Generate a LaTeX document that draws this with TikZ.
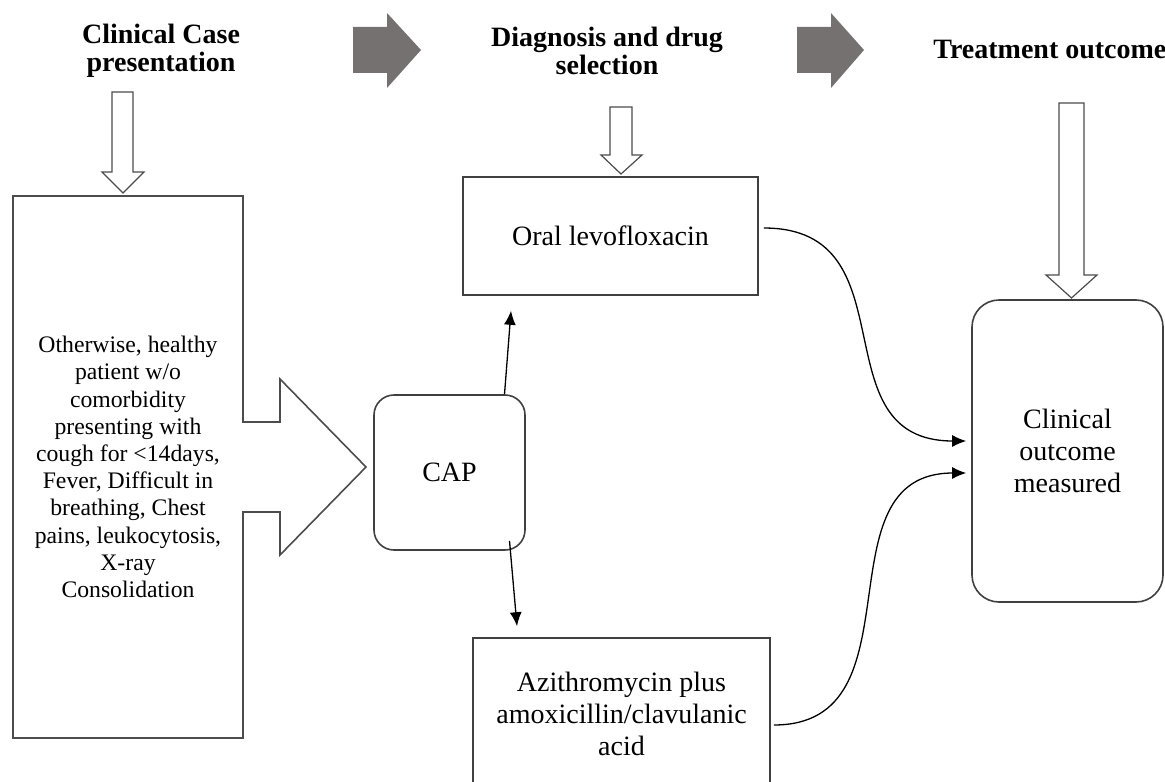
\documentclass[tikz,border=0pt]{standalone}
\usepackage{fontspec}
\setmainfont{Liberation Serif}
\usetikzlibrary{arrows.meta}
\usetikzlibrary{calc}
\definecolor{blockgray}{HTML}{767171}

\begin{document}
\begin{tikzpicture}[x=0.5pt,y=-0.5pt,
  head/.style={font=\bfseries\fontsize{14}{14}\selectfont,align=center,inner sep=0pt},
  box/.style={draw=black!75,line width=0.8pt,align=center,font=\fontsize{14}{16}\selectfont},
  hollow/.style={draw=black!70,fill=white,line width=0.6pt},
  flow/.style={->,>={Latex[length=7pt,width=6pt]},line width=0.65pt}]
\useasboundingbox (0,0) rectangle (1165,781);
% stage headings
\node[head] (hcase) at (161,51) {Clinical Case\\presentation};
\node[head] (hdiag) at (607,51) {Diagnosis and drug\\selection};
\node[head,anchor=west] (hout) at (933,50) {Treatment outcome};
\fill[blockgray] (353,27) -- (387,27) -- (387,13) -- (421,50) -- (387,88) -- (387,73) -- (353,73) -- cycle;
\fill[blockgray] (797,27) -- (831,27) -- (831,13) -- (864,50) -- (831,88) -- (831,73) -- (797,73) -- cycle;
% hollow arrows down
\draw[hollow] (112,92) -- (133,92) -- (133,172) -- (144,172) -- (123,193) -- (102,172) -- (112,172) -- cycle;
\draw[hollow] (610,107) -- (632,107) -- (632,155) -- (642,155) -- (621,174) -- (601,155) -- (610,155) -- cycle;
\draw[hollow] (1059,103) -- (1084,103) -- (1084,275) -- (1097,275) -- (1071.5,298) -- (1046,275) -- (1059,275) -- cycle;
% case box with callout
\draw[draw=black!70,line width=0.8pt] (13,196) -- (243,196) -- (243,422) -- (280,422) -- (280,379) -- (366,467)
  -- (280,555) -- (280,512) -- (243,512) -- (243,738) -- (13,738) -- cycle;
\node[align=center,font=\fontsize{11.85}{13.6}\selectfont] (case) at (128,467) {Otherwise, healthy\\patient w/o\\comorbidity\\presenting with\\cough for <14days,\\Fever, Difficult in\\breathing, Chest\\pains, leukocytosis,\\X-ray\\Consolidation};
% boxes
\node[box,rounded corners=10pt,minimum width=75.5pt,minimum height=77.5pt] (cap) at (449.5,472.5) {CAP};
\node[box,minimum width=147.5pt,minimum height=59pt] (levo) at (610.5,236) {Oral levofloxacin};
\node[box,minimum width=148.5pt,minimum height=76pt] (azi) at (621.5,714) {Azithromycin plus\\amoxicillin/clavulanic\\acid};
\node[box,rounded corners=13.5pt,minimum width=95.5pt,minimum height=151pt] (outcome) at (1067.5,451) {Clinical\\outcome\\measured};
% connectors
\draw[flow] ($(cap.north)+(55,0)$) -- ($(levo.south)+(-99.5,15)$);
\draw[flow] ($(cap.south)+(60,-10)$) -- ($(azi.north)+(-104.5,-11)$);
\draw[flow] ($(levo.east)+(5,-8)$) .. controls +(150,0) and +(-150,0) .. ($(outcome.west)+(-5,-10)$);
\draw[flow] ($(azi.east)+(3,11)$) .. controls +(150,0) and +(-150,0) .. ($(outcome.west)+(-5,22)$);
\end{tikzpicture}
\end{document}
